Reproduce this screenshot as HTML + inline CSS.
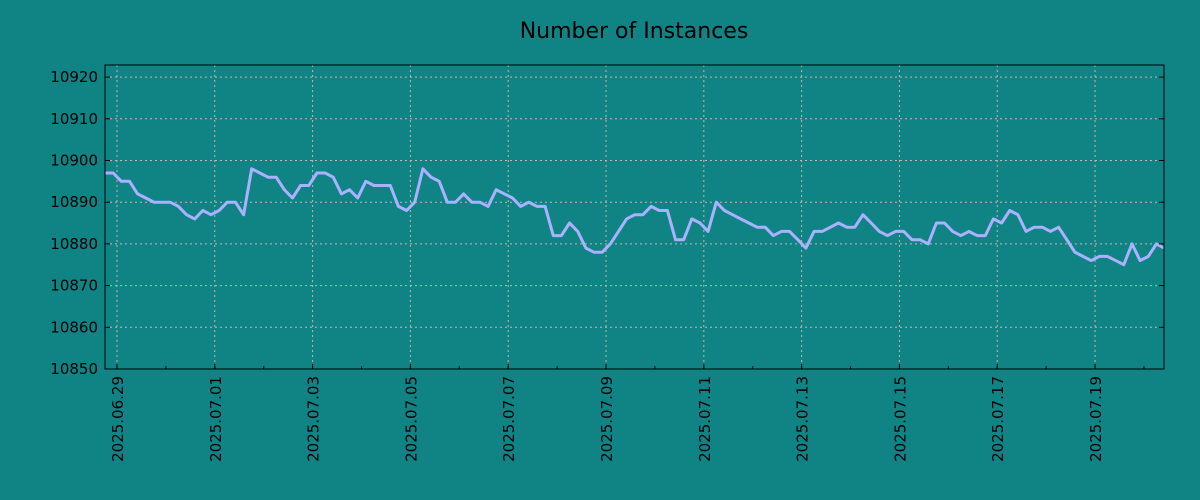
<!DOCTYPE html>
<html><head><meta charset="utf-8"><style>
html,body{margin:0;padding:0;background:#108385;}
svg{display:block;font-family:"DejaVu Sans","Liberation Sans",sans-serif;}
</style></head><body>
<svg id="chart" width="1200" height="500">
<rect x="0" y="0" width="1200" height="500" fill="#108385"/>
<text x="634" y="38" font-size="22" text-anchor="middle" fill="#000">Number of Instances</text>
<g id="grid"></g><g id="series"></g><g id="axes"></g>
</svg>
<script>
const values = [10897,10897,10895,10895,10892,10891,10890,10890,10890,10889,10887,10886,10888,10887,10888,10890,10890,10887,10898,10897,10896,10896,10893,10891,10894,10894,10897,10897,10896,10892,10893,10891,10895,10894,10894,10894,10889,10888,10890,10898,10896,10895,10890,10890,10892,10890,10890,10889,10893,10892,10891,10889,10890,10889,10889,10882,10882,10885,10883,10879,10878,10878,10880,10883,10886,10887,10887,10889,10888,10888,10881,10881,10886,10885,10883,10890,10888,10887,10886,10885,10884,10884,10882,10883,10883,10881,10879,10883,10883,10884,10885,10884,10884,10887,10885,10883,10882,10883,10883,10881,10881,10880,10885,10885,10883,10882,10883,10882,10882,10886,10885,10888,10887,10883,10884,10884,10883,10884,10881,10878,10877,10876,10877,10877,10876,10875,10880,10876,10877,10880,10879];
const startOffsetDays = -0.245;
const stepDays = 1/6;
const yTicks = [10850,10860,10870,10880,10890,10900,10910,10920];
const xTickLabels = ["2025.06.29","2025.07.01","2025.07.03","2025.07.05","2025.07.07","2025.07.09","2025.07.11","2025.07.13","2025.07.15","2025.07.17","2025.07.19"];
const xTickDays = [0,2,4,6,8,10,12,14,16,18,20];

const L=105,R=1164,T=65,B=369;
const dMin=-0.245,dMax=21.41,yMin=10850,yMax=10922.9;
const xs=d=>L+(d-dMin)/(dMax-dMin)*(R-L);
const ys=v=>B-(v-yMin)/(yMax-yMin)*(B-T);
const NS="http://www.w3.org/2000/svg";
function mk(tag,attrs,parent){const e=document.createElementNS(NS,tag);for(const k in attrs)e.setAttribute(k,attrs[k]);parent.appendChild(e);return e;}
const grid=document.getElementById('grid'),series=document.getElementById('series'),axes=document.getElementById('axes');

yTicks.forEach(v=>{
  const y=ys(v);
  const g=mk('line',{x1:L,x2:R,y1:y,y2:y,stroke:'#c8b4a8','stroke-width':1,'stroke-dasharray':'2,3'},grid);
  
  
  const t=mk('line',{x1:L,x2:L+5,y1:y,y2:y,stroke:'#000'},axes);
  
  
  const t2=mk('line',{x1:R-5,x2:R,y1:y,y2:y,stroke:'#000'},axes);
  
  
  const lb=mk('text',{x:L-7,y:y+5,'font-size':15,'text-anchor':'end',fill:'#000'},axes);
  lb.textContent=v;
  
  
});
for(let d=0;d<=21;d++){
  const x=xs(d);
  const m=mk('line',{x1:x,x2:x,y1:B,y2:B-3,stroke:'#000'},axes);
  
  
}
xTickDays.forEach((d,i)=>{
  const x=xs(d);
  const g=mk('line',{x1:x,x2:x,y1:T,y2:B,stroke:'#c8b4a8','stroke-width':1,'stroke-dasharray':'2,3'},grid);
  
  
  const t=mk('line',{x1:x,x2:x,y1:B,y2:B-5,stroke:'#000'},axes);
  
  
  const lb=mk('text',{x:0,y:0,'font-size':15,'text-anchor':'end',fill:'#000',transform:`translate(${x+6},376) rotate(-90)`},axes);
  lb.textContent=xTickLabels[i];
  
  
});
const pts=values.map((v,i)=>{const d=startOffsetDays+i*stepDays;return xs(Math.min(d,dMax)).toFixed(1)+','+ys(v).toFixed(1);}).join(' ');
const line=mk('polyline',{points:pts,fill:'none',stroke:'#aab2ff','stroke-width':3,'stroke-linejoin':'round'},series);


const frame=mk('rect',{x:L,y:T,width:R-L,height:B-T,fill:'none',stroke:'#000','stroke-width':1},axes);


</script>
</body></html>
